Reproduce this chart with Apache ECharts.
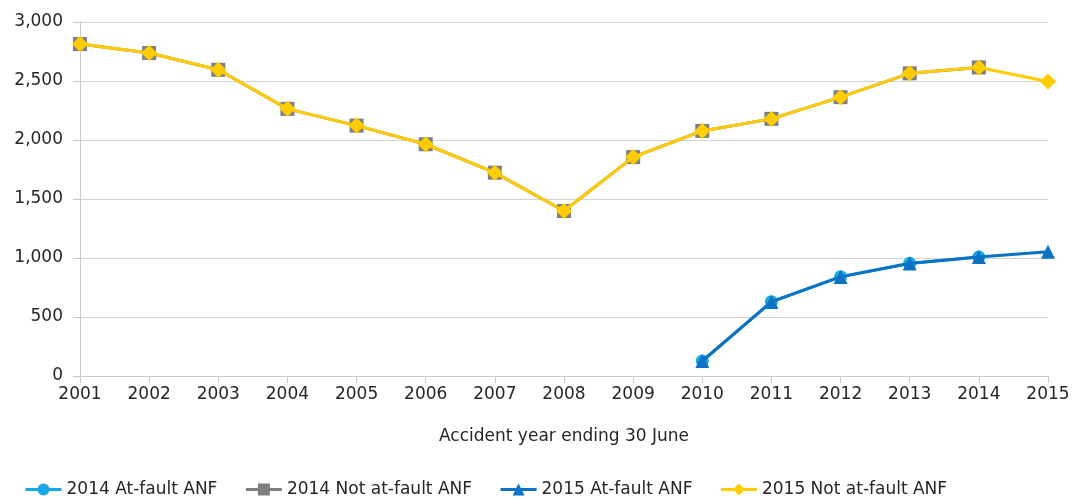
<!DOCTYPE html>
<html>
<head>
<meta charset="utf-8">
<script src="https://cdn.jsdelivr.net/npm/echarts@6/dist/echarts.min.js"></script>
<style>html,body{margin:0;padding:0;background:#fff}#c{width:1076px;height:500px}</style>
</head>
<body>
<div id="c"></div>
<script>
const years = ['2001','2002','2003','2004','2005','2006','2007','2008','2009','2010','2011','2012','2013','2014','2015'];
const atFault2014 = [null,null,null,null,null,null,null,null,null,127,630,842,955,1008,null];
const notAtFault2014 = [2813,2737,2595,2264,2122,1964,1723,1398,1855,2077,2179,2363,2565,2615,null];
const atFault2015 = [null,null,null,null,null,null,null,null,null,127,628,840,954,1008,1052];
const notAtFault2015 = [2813,2737,2595,2264,2122,1964,1723,1398,1855,2077,2179,2363,2565,2615,2496];
const yTicks = {min:0, max:3000, interval:500};

const font = "'DejaVu Sans', Verdana, sans-serif";
const chart = echarts.init(document.getElementById('c'), null, {renderer:'canvas'});
chart.setOption({
  animation:false,
  grid:{left:80, right:28, top:22, bottom:124, containLabel:false},
  legend:{
    top:476, left:19, itemWidth:36, itemHeight:15, itemGap:27,
    lineStyle:{width:3},
    textStyle:{fontFamily:font, fontSize:17, color:'#262626'},
    data:['2014 At-fault ANF','2014 Not at-fault ANF','2015 At-fault ANF','2015 Not at-fault ANF']
  },
  xAxis:{
    type:'category', data:years, boundaryGap:false,
    name:'Accident year ending 30 June', nameLocation:'middle', nameGap:52,
    nameTextStyle:{fontFamily:font, fontSize:17, color:'#262626'},
    axisLine:{lineStyle:{color:'#c8c8c8', width:1}},
    axisTick:{show:true, length:7, lineStyle:{color:'#c8c8c8'}},
    axisLabel:{fontFamily:font, fontSize:17, color:'#262626', margin:10},
    splitLine:{show:false}
  },
  yAxis:{
    type:'value', min:yTicks.min, max:yTicks.max, interval:yTicks.interval,
    axisLine:{show:true, lineStyle:{color:'#c8c8c8'}},
    axisTick:{show:true, length:7, lineStyle:{color:'#c8c8c8'}},
    axisLabel:{fontFamily:font, fontSize:17, color:'#262626', margin:17,
      formatter:v=>v.toLocaleString('en-US')},
    splitLine:{lineStyle:{color:'#d4d4d4', width:1}}
  },
  series:[
    {name:'2014 At-fault ANF', type:'line', data:atFault2014, symbol:'circle', symbolSize:13,
      itemStyle:{color:'#1aa7e6'}, lineStyle:{color:'#1aa7e6', width:3}, z:2},
    {name:'2014 Not at-fault ANF', type:'line', data:notAtFault2014, symbol:'rect', symbolSize:14,
      itemStyle:{color:'#7f7f7f'}, lineStyle:{color:'#7f7f7f', width:3}, z:2},
    {name:'2015 At-fault ANF', type:'line', data:atFault2015, symbol:'triangle', symbolSize:14,
      itemStyle:{color:'#0b72c4'}, lineStyle:{color:'#0b72c4', width:3}, z:3},
    {name:'2015 Not at-fault ANF', type:'line', data:notAtFault2015, symbol:'diamond', symbolSize:16,
      itemStyle:{color:'#ffcc00'}, lineStyle:{color:'#ffcc00', width:3}, z:3}
  ]
});
</script>
</body>
</html>
